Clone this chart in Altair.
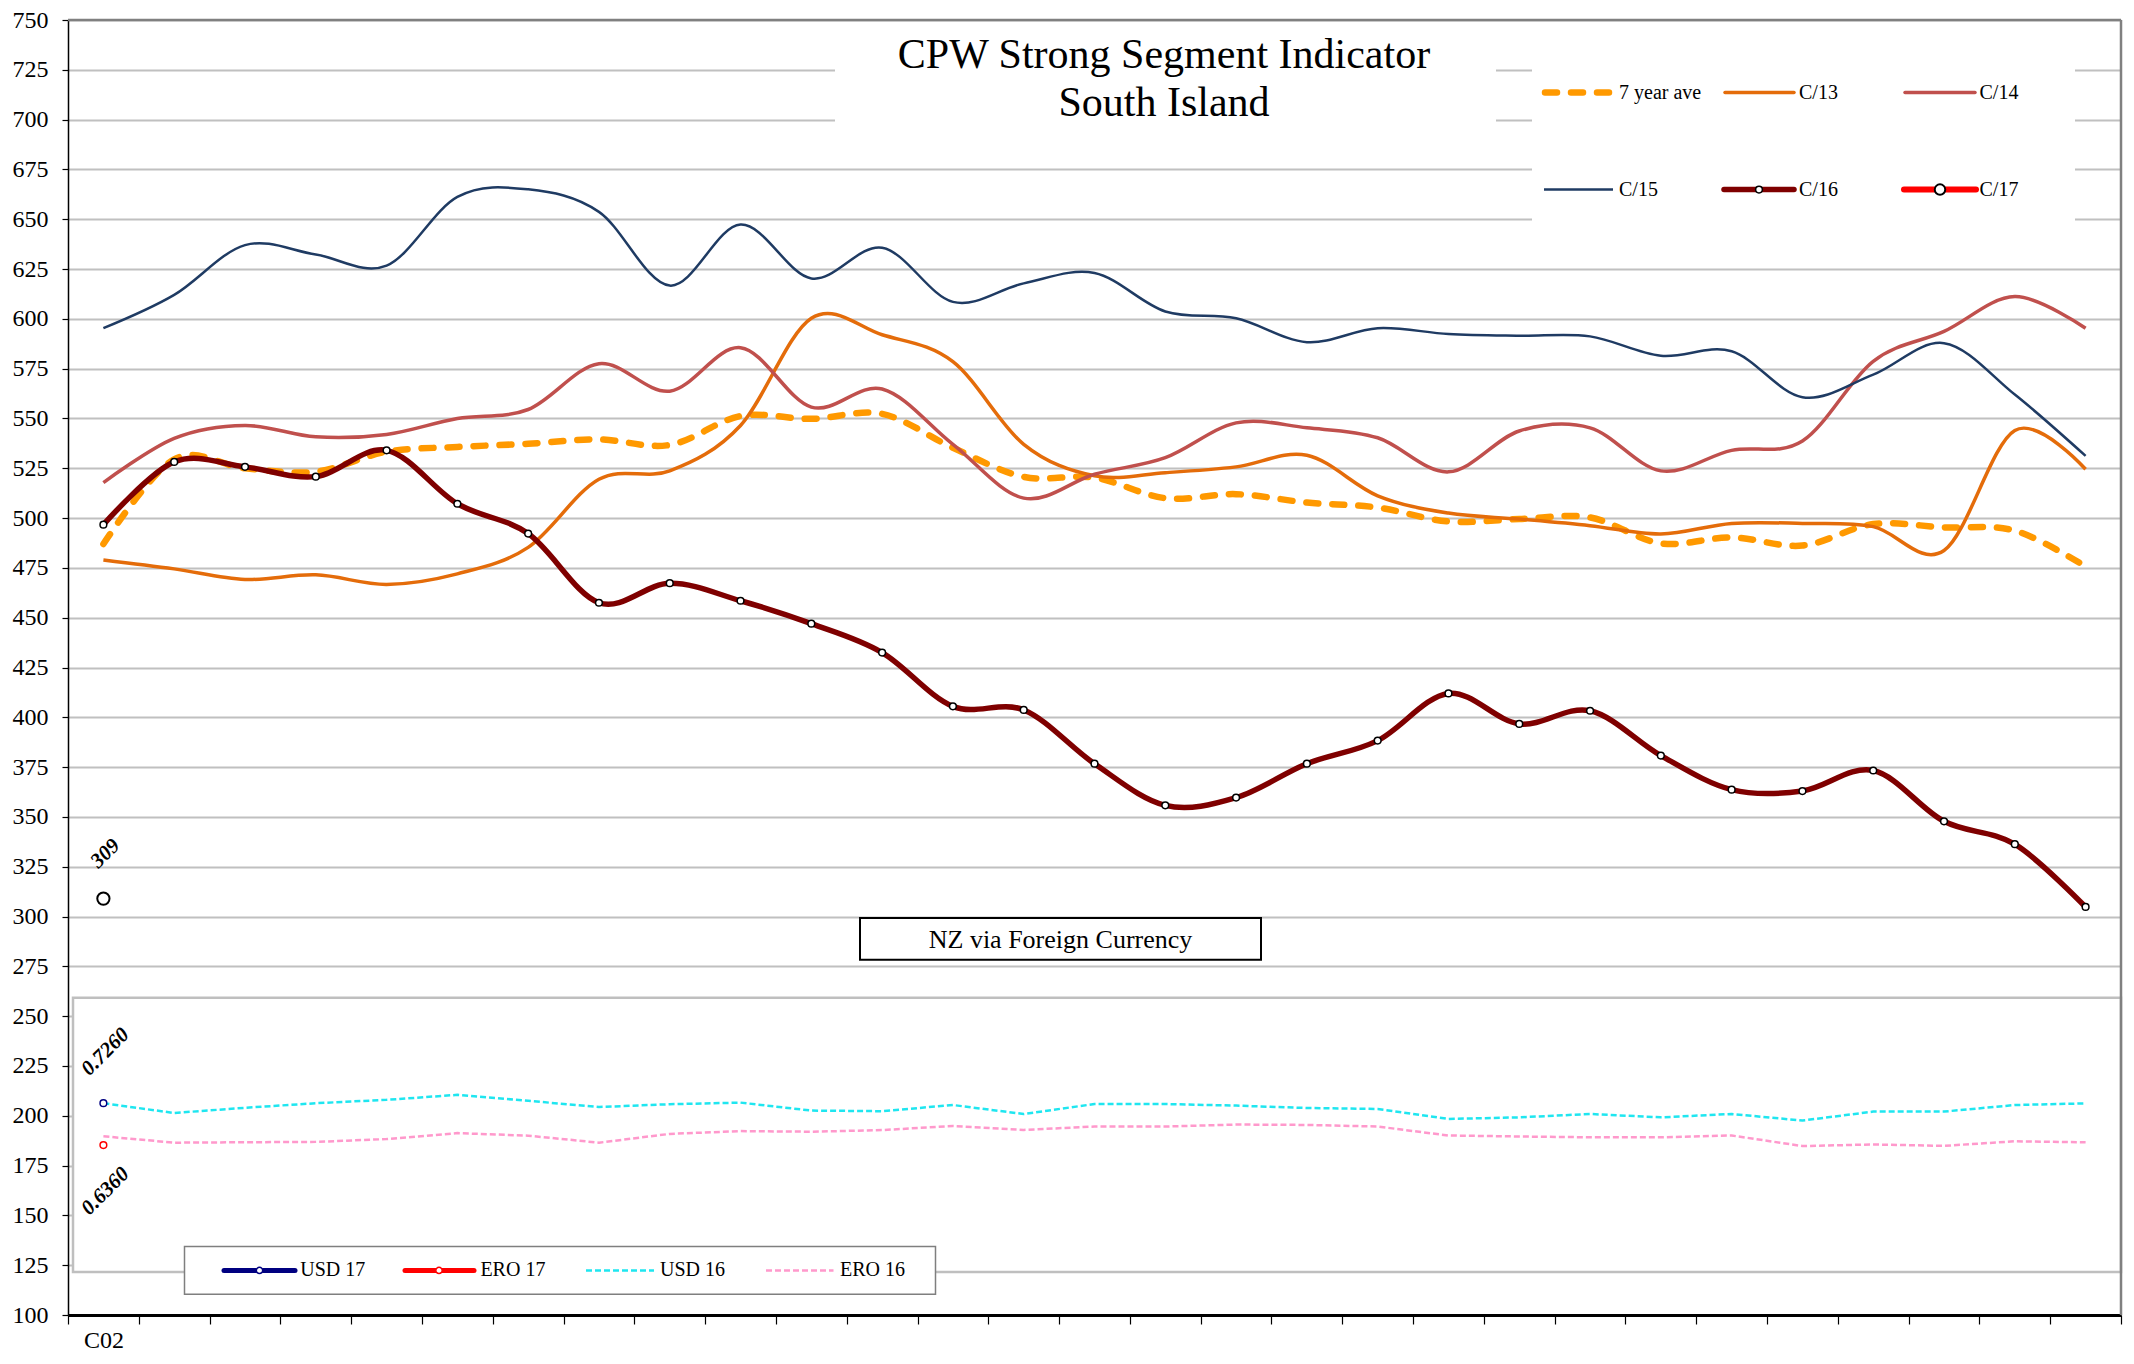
import altair as alt
import pandas as pd

# ---------------- data ----------------
categories = ["C02", "C03", "C04", "C05", "C06", "C07", "C08", "C09", "C10", "C11",
              "C12", "C13", "C14", "C15", "C16", "C17", "C18", "C19", "C20", "C21",
              "C22", "C23", "C24", "C25", "C26", "C27", "C28", "C29", "C30"]

ave7 = [487, 529.5, 525, 523.3, 533.3, 535.7, 537.3, 539.5, 536.7, 551.2,
        549.8, 552.3, 535.3, 520.7, 520.3, 510, 512, 507.8, 505.3, 498.3,
        499.5, 500.3, 487.3, 490.3, 486.2, 497, 495.3, 493.7, 475.7]
c13 = [479, 474.5, 469.2, 471.5, 466.7, 472, 485.3, 519.5, 523.7, 546.5,
       600.3, 592, 578.5, 537, 521.2, 522.8, 525.7, 531.5, 511.2, 502.5,
       499.5, 496.2, 492, 497.3, 497.3, 495.7, 483.7, 544, 524.5]
c14 = [517.8, 540, 546.5, 540.8, 542, 550, 554.5, 577.5, 563.7, 585.5,
       555.7, 564.8, 537, 510, 522, 530.3, 547.8, 545.3, 540.3, 523.2,
       543.7, 545.3, 523.7, 534, 538.7, 578.7, 593.7, 611.2, 595.3]
c15 = [595.3, 612, 637, 632.3, 626.7, 661.2, 665, 653.7, 616.7, 647.3,
       620.3, 635.7, 608.5, 617.8, 623, 603.7, 600.3, 588.3, 595.3, 592.4,
       591.5, 591.2, 581.5, 583.7, 560.7, 572, 587.8, 562, 531.2]
c16 = [496.7, 528.2, 525.7, 520.8, 534, 507.2, 492.2, 457.5, 467.3, 458.5,
       447, 432.5, 405.5, 403.7, 376.7, 355.8, 359.7, 376.7, 388.3, 412,
       396.7, 403.3, 380.8, 363.7, 363, 373.3, 347.8, 336.3, 304.8]
c17 = [309]
usd16 = [206.3, 201.4, 204, 206.3, 208, 210.5, 207.5, 204.4, 205.8, 206.6,
         202.6, 202.3, 205.4, 200.9, 205.9, 205.9, 205.1, 203.9, 203.4, 198.4,
         199.2, 200.9, 199.2, 200.9, 197.6, 202.1, 202.1, 205.4, 206.2]
ero16 = [189.7, 186.5, 186.7, 186.9, 188.3, 191.3, 190, 186.5, 190.9, 192.3,
         192, 192.8, 194.9, 192.9, 194.6, 194.6, 195.6, 195.4, 194.6, 190.1,
         189.6, 189.2, 189.2, 190.1, 184.8, 185.6, 184.9, 187.2, 186.7]
usd17 = [206.3]
ero17 = [185.3]

label_texts = ["309", "0.7260", "0.6360"]
label_values = [330.5, 231, 161]

main_legend = ["7 year ave", "C/13", "C/14", "C/15", "C/16", "C/17"]
fx_legend = ["USD 17", "ERO 17", "USD 16", "ERO 16"]
title_lines = ["CPW Strong Segment Indicator", "South Island"]
box_text = "NZ via Foreign Currency"

FONT = "Liberation Serif"
W, H = 2053, 1295
TOP = 3  # shift of pixel annotations relative to the original plot top


def frame(values):
    return pd.DataFrame({"cat": categories[:len(values)], "value": values})


xscale = alt.Scale(type="band", domain=categories, paddingInner=0, paddingOuter=0)
X = alt.X("cat:N", scale=xscale, bandPosition=0.5,
          axis=alt.Axis(title=None, tickBand="extent", grid=False,
                        labelExpr="datum.value == 'C02' ? datum.label : ''",
                        domainColor="black", domainWidth=3, tickColor="black",
                        tickWidth=1.2, tickSize=9, labelFont=FONT, labelFontSize=24,
                        labelPadding=4, labelColor="black", labelAngle=0))
Y = alt.Y("value:Q", scale=alt.Scale(domain=[100, 750], nice=False, zero=False),
          axis=alt.Axis(title=None, values=list(range(100, 751, 25)), grid=True,
                        gridColor="#c0c0c0", gridWidth=2, domainColor="black",
                        domainWidth=1.5, tickColor="black", tickSize=6, tickWidth=1.2,
                        labelFont=FONT, labelFontSize=24, labelPadding=14,
                        labelColor="black", labelFlush=False))

one = pd.DataFrame({"k": [0]})


def py(v):
    # pixel positions measured against a 1298px tall plot; rescale to H
    return (v - TOP) * H / 1298.0


def box(x, x2, y, y2, stroke=None, sw=0):
    kw = dict(fill="white")
    if stroke:
        kw.update(stroke=stroke, strokeWidth=sw)
    else:
        kw.update(strokeWidth=0)
    return alt.Chart(one).mark_rect(**kw).encode(
        x=alt.value(x), x2=alt.value(x2), y=alt.value(py(y)), y2=alt.value(py(y2)))


def hline(x, x2, y, color, width, dash=None, cap="butt"):
    kw = dict(color=color, strokeWidth=width, strokeCap=cap)
    if dash:
        kw["strokeDash"] = dash
    return alt.Chart(one).mark_rule(**kw).encode(
        x=alt.value(x), x2=alt.value(x2), y=alt.value(py(y)))


def vline(x, color, width):
    return alt.Chart(one).mark_rule(color=color, strokeWidth=width).encode(
        x=alt.value(x), y=alt.value(0), y2=alt.value(H))


def dot(x, y, stroke, size, sw):
    return alt.Chart(one).mark_point(shape="circle", filled=True, fill="white",
                                     stroke=stroke, strokeWidth=sw, size=size,
                                     opacity=1).encode(x=alt.value(x), y=alt.value(py(y)))


def txt(x, y, s, size, align="left", baseline="middle"):
    return alt.Chart(one).mark_text(text=s, font=FONT, fontSize=size, align=align,
                                    baseline=baseline, color="black").encode(
        x=alt.value(x), y=alt.value(py(y)))


def series(values, color, width, dash=None, interp="cardinal", cap="butt"):
    kw = dict(color=color, strokeWidth=width, interpolate=interp, strokeCap=cap,
              strokeJoin="round")
    if dash:
        kw["strokeDash"] = dash
    return alt.Chart(frame(values)).mark_line(**kw).encode(x=X, y=Y)


def markers(values, stroke, size, sw):
    return alt.Chart(frame(values)).mark_point(
        shape="circle", filled=True, fill="white", stroke=stroke, strokeWidth=sw,
        size=size, opacity=1).encode(x=X, y=Y)


layers = []
# white panels covering gridlines
layers.append(box(767, 1428, 25, 140))                 # title area
layers.append(box(1464, 2007, 25, 235))                # legend area
layers.append(box(5, W, 983, 1258, "#bfbfbf", 2.5))   # currency sub-panel
layers.append(box(792, 1193, 903, 945, "black", 2))   # NZ via Foreign Currency
# plot borders (top and right)
layers.append(alt.Chart(one).mark_rule(color="#808080", strokeWidth=2.5).encode(
    x=alt.value(0), x2=alt.value(W), y=alt.value(0)))
layers.append(vline(W, "#808080", 2.5))

# currency lines
layers.append(series(usd16, "#1fe6f0", 2.5, dash=[6, 3], interp="linear"))
layers.append(series(ero16, "#ff99cc", 2.5, dash=[6, 3], interp="linear"))
# main series
layers.append(series(ave7, "#ff9900", 6.5, dash=[12, 14], cap="round"))
layers.append(series(c13, "#e46c0a", 3.5))
layers.append(series(c14, "#c0504d", 3.5))
layers.append(series(c15, "#1f3b63", 2.5))
layers.append(series(c16, "#7f0000", 5.5))
layers.append(markers(c16, "black", 45, 1.5))
layers.append(markers(c17, "black", 150, 2))
layers.append(markers(usd17, "#000080", 45, 1.5))
layers.append(markers(ero17, "#ff0000", 45, 1.5))

# rotated value labels
labels_df = pd.DataFrame({"cat": ["C02"] * 3, "value": label_values, "label": label_texts})
layers.append(alt.Chart(labels_df).mark_text(
    angle=315, font=FONT, fontSize=21, fontStyle="italic", fontWeight="bold",
    align="center", baseline="middle", color="black", dx=3).encode(
    x=X, y=Y, text="label:N"))

# title
layers.append(txt(1096, 51.3, title_lines[0], 42, align="center", baseline="alphabetic"))
layers.append(txt(1096, 99.7, title_lines[1], 42, align="center", baseline="alphabetic"))
layers.append(txt(992.5, 933, box_text, 26, align="center", baseline="alphabetic"))

# main legend (3 columns x 2 rows)
r1, r2 = 75.7, 173
layers.append(hline(1477, 1544, r1, "#ff9900", 6.5, dash=[12, 14], cap="round"))
layers.append(txt(1551, r1, main_legend[0], 20))
layers.append(hline(1657, 1726, r1, "#e46c0a", 3.5, cap="round"))
layers.append(txt(1731, r1, main_legend[1], 20))
layers.append(hline(1837, 1907, r1, "#c0504d", 3.5, cap="round"))
layers.append(txt(1911.5, r1, main_legend[2], 20))
layers.append(hline(1476, 1545, r2, "#1f3b63", 2.5))
layers.append(txt(1551, r2, main_legend[3], 20))
layers.append(hline(1656, 1726, r2, "#7f0000", 5.5, cap="round"))
layers.append(dot(1691, r2, "black", 45, 1.5))
layers.append(txt(1731, r2, main_legend[4], 20))
layers.append(hline(1836, 1908, r2, "#ff0000", 6, cap="round"))
layers.append(dot(1872, r2, "black", 110, 2))
layers.append(txt(1911.5, r2, main_legend[5], 20))

# currency legend
lb = 1256.3
layers.append(box(116.5, 867.5, 1232.3, 1280.3, "#7f7f7f", 1.5))
layers.append(hline(156, 227, lb, "#000080", 5, cap="round"))
layers.append(dot(191.5, lb, "#000080", 40, 1.5))
layers.append(txt(232.3, lb, fx_legend[0], 20))
layers.append(hline(337, 406, lb, "#ff0000", 5, cap="round"))
layers.append(dot(371, lb, "#ff0000", 40, 1.5))
layers.append(txt(412.4, lb, fx_legend[1], 20))
layers.append(hline(518, 586, lb, "#1fe6f0", 2.5, dash=[6, 3]))
layers.append(txt(592, lb, fx_legend[2], 20))
layers.append(hline(698, 765.5, lb, "#ff99cc", 2.5, dash=[6, 3]))
layers.append(txt(772, lb, fx_legend[3], 20))

chart = alt.layer(*layers).properties(
    width=W, height=H,
    padding={"left": 60, "top": 12, "right": 3, "bottom": 40},
    autosize=alt.AutoSizeParams(type="none"),
    background="white",
).configure_view(strokeWidth=0)

chart.save("out.html", embed_options={"renderer": "svg", "actions": False})
